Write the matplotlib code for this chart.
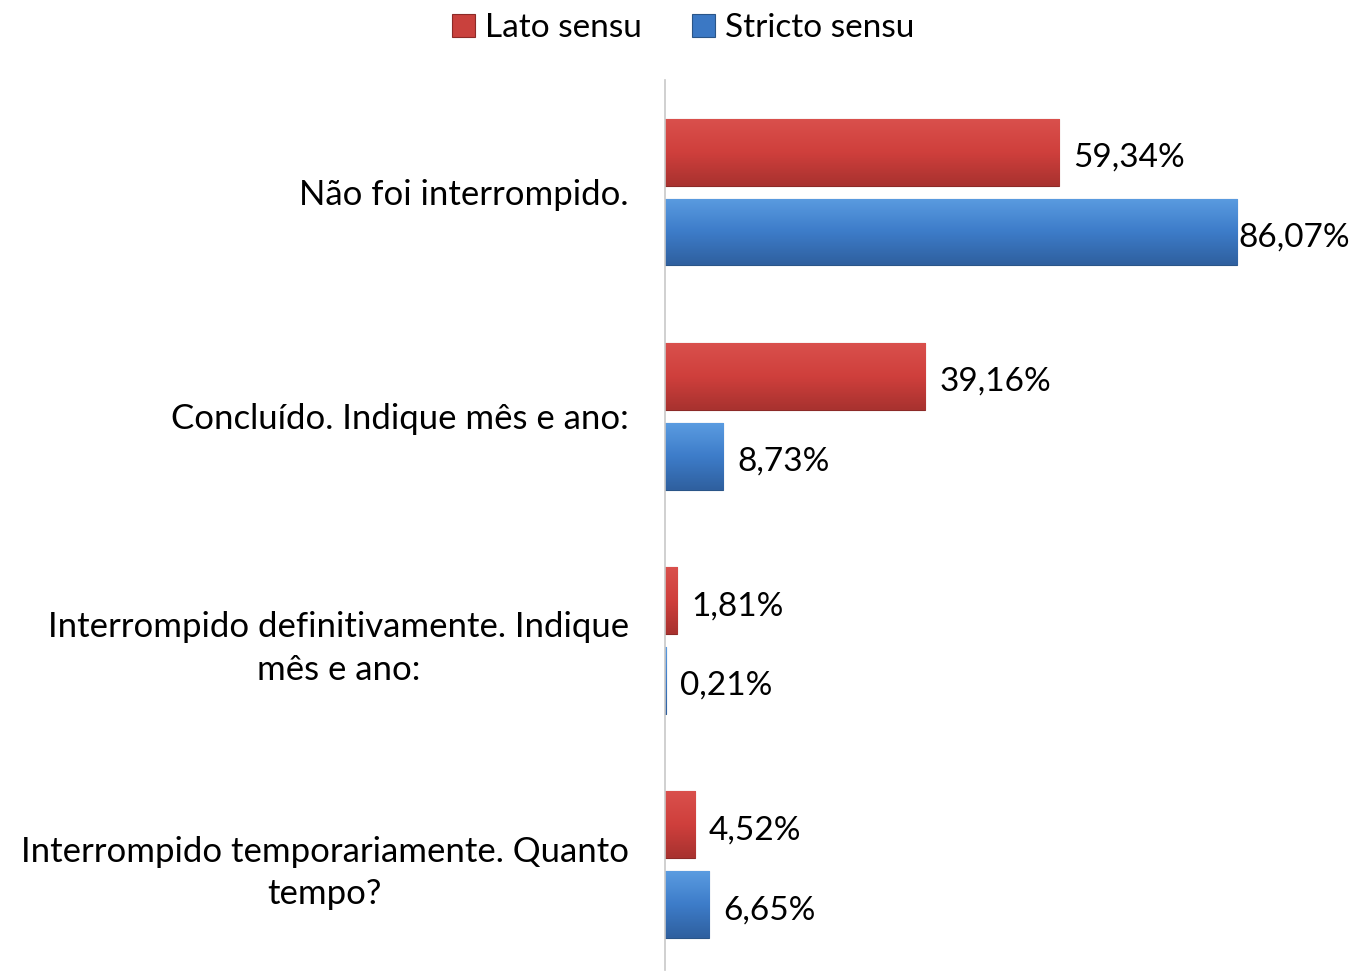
import numpy as np
import matplotlib.pyplot as plt
from matplotlib.colors import LinearSegmentedColormap

categorias = ['Não foi interrompido.',
              'Concluído. Indique mês e ano:',
              'Interrompido definitivamente. Indique\nmês e ano:',
              'Interrompido temporariamente. Quanto\ntempo?']
lato = [59.34, 39.16, 1.81, 4.52]
stricto = [86.07, 8.73, 0.21, 6.65]
series = ['Lato sensu', 'Stricto sensu']

plt.rcParams['font.family'] = ['Lato', 'DejaVu Sans']

fig = plt.figure(figsize=(13.55, 9.74), dpi=100)
ax = fig.add_axes([0.4908, 0.0041, 0.5092, 0.9138])

y = np.arange(len(categorias))
h = 0.298
off = 0.178

# gradiente tipo Excel (claro em cima, escuro em baixo)
cm_red = LinearSegmentedColormap.from_list('r', ['#a8322f', '#cf3f3c', '#d9504c'])
cm_blue = LinearSegmentedColormap.from_list('b', ['#2f609f', '#3d7cc9', '#5a9be0'])

def barras(vals, pos, cor, cmap, label, edge):
    bars = ax.barh(pos, vals, height=h, color=cor, edgecolor=edge, linewidth=0.8,
                   label=label, zorder=2)
    grad = np.linspace(0, 1, 64).reshape(-1, 1)
    for b in bars:
        x0, y0 = b.get_x(), b.get_y()
        w, hh = b.get_width(), b.get_height()
        im = ax.imshow(grad, cmap=cmap, aspect='auto', origin='lower',
                       extent=[x0, x0 + w, y0 + hh, y0], zorder=2.5)
        im.set_clip_path(b)
    return bars

barras(lato, y - off, '#c9413d', cm_red, series[0], '#8c2a27')
barras(stricto, y + off, '#3b78c4', cm_blue, series[1], '#2a5588')

for vals, pos in [(lato, y - off), (stricto, y + off)]:
    for v, p in zip(vals, pos):
        dx = 1 if v > 80 else 10
        ax.annotate(f'{v:.2f}%'.replace('.', ','), (v, p), xytext=(dx, -4),
                    textcoords='offset points', va='center', ha='left',
                    fontsize=24, color='#000000')

ax.set_xlim(0, 103.8)
ax.set_ylim(3.47, -0.5)
ax.set_yticks(y)
ax.set_yticklabels(categorias, fontsize=25, linespacing=1.4)
for lbl in ax.get_yticklabels():
    lbl.set_multialignment('center')
ax.tick_params(axis='y', length=0, pad=26)
ax.set_xticks([])
for s in ['top', 'right', 'bottom']:
    ax.spines[s].set_visible(False)
ax.spines['left'].set_color('#c8c8c8')
ax.spines['left'].set_linewidth(1.2)

ax.legend(loc='center', bbox_to_anchor=(683 / 1355, 1 - 28 / 974),
          bbox_transform=fig.transFigure, ncol=2, frameon=False, fontsize=24,
          handlelength=0.7, handleheight=0.7, handletextpad=0.3,
          columnspacing=1.5)

fig.savefig('out.png', dpi=100)
